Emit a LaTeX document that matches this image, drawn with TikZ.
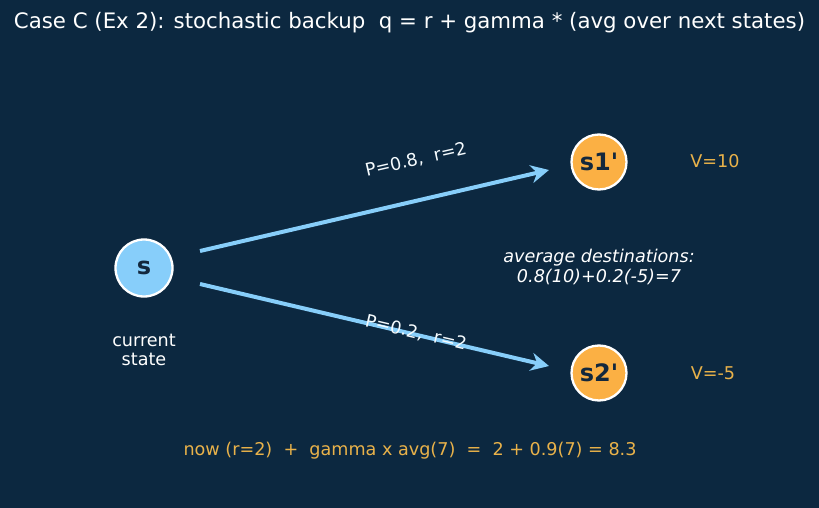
\documentclass[tikz,border=0pt]{standalone}
\usepackage{fontspec}
\setmainfont{DejaVu Sans}[Ligatures=TeXOff]
\usetikzlibrary{arrows.meta}
\definecolor{bg}{HTML}{0C2840}
\definecolor{skyb}{HTML}{87CEFA}
\definecolor{orng}{HTML}{FBB044}
\definecolor{otxt}{HTML}{E9B24A}
\definecolor{dk}{HTML}{13283D}
\tikzset{
  state/.style={circle,draw=white,line width=2.3pt,minimum size=57pt,inner sep=0pt,text=dk,font=\fontsize{24}{26}\selectfont\bfseries},
  edge/.style={skyb,line width=4pt,-{Stealth[length=18pt,width=18pt]}},
  lbl/.style={text=white,font=\fontsize{17.6}{20}\selectfont},
  olbl/.style={text=otxt,font=\fontsize{17.6}{20}\selectfont}
}
\begin{document}
\begin{tikzpicture}[x=1pt,y=-1pt]
\fill[bg] (0,0) rectangle (819,508);
\useasboundingbox (0,0) rectangle (819,508);
\node[text=white,font=\fontsize{21.3}{24}\selectfont] (title) at (409.5,23) {Case C (Ex 2): stochastic backup\ \ q = r + gamma * (avg over next states)};
\node[state,fill=skyb] (s) at (144,268) {s};
\node[state,fill=orng,minimum size=55pt] (s1) at (599,162) {s1'};
\node[state,fill=orng,minimum size=55pt] (s2) at (599,373) {s2'};
\coordinate (a1) at (200,251);
\coordinate (b1) at (549,170);
\coordinate (a2) at (200,284);
\coordinate (b2) at (549,366);
\draw[edge] (a1) -- (b1);
\draw[edge] (a2) -- (b2);
\node[lbl,rotate=12.9,text=white!92!skyb] (l1) at (416,160) {P=0.8,\ \ r=2};
\node[lbl,rotate=-13.2,text=white!92!skyb] (l2) at (416,333) {P=0.2,\ \ r=2};
\node[lbl,align=center,font=\fontsize{17.6}{19}\selectfont] (cs) at (144,350) {current\\state};
\node[olbl] (v1) at (715,161) {V=10};
\node[olbl] (v2) at (713,373) {V=-5};
\node[lbl,align=center,font=\fontsize{17.6}{20}\selectfont\itshape] (avg) at (599,267) {average destinations:\\0.8(10)+0.2(-5)=7};
\node[olbl] (bot) at (410,451) {now (r=2)\ \ +\ \ gamma x avg(7)\ \ =\ \ 2 + 0.9(7) = 8.3};
\end{tikzpicture}
\end{document}
